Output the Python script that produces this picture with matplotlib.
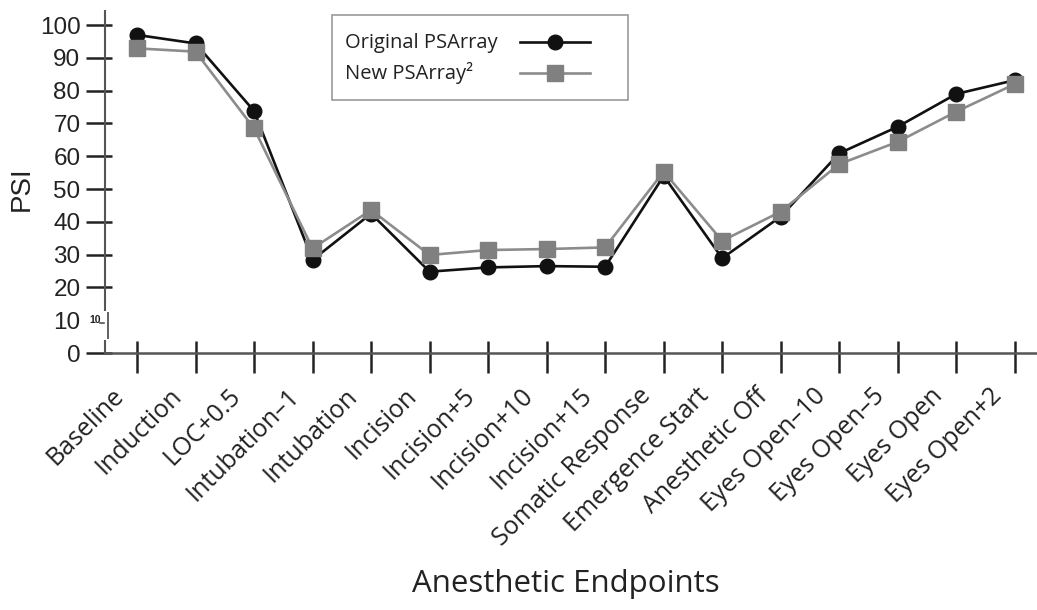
import matplotlib
matplotlib.use("Agg")
import matplotlib.pyplot as plt
import matplotlib.transforms as mtransforms
from matplotlib.lines import Line2D
from matplotlib.patches import Rectangle
import numpy as np

categories = ["Baseline", "Induction", "LOC+0.5", "Intubation\u20131", "Intubation",
              "Incision", "Incision+5", "Incision+10", "Incision+15",
              "Somatic Response", "Emergence Start", "Anesthetic Off",
              "Eyes Open\u201310", "Eyes Open\u20135", "Eyes Open", "Eyes Open+2"]
original = [97.0, 94.4, 73.8, 28.4, 42.5, 24.8, 26.1, 26.5, 26.3, 54.0, 28.9, 41.6,
            60.9, 69.0, 79.0, 83.2]
new = [92.9, 91.9, 68.5, 31.9, 43.6, 29.9, 31.4, 31.7, 32.2, 55.3, 34.2, 43.1,
       57.6, 64.4, 73.6, 82.0]
yticks = [0, 10, 20, 30, 40, 50, 60, 70, 80, 90, 100]
series_labels = ["Original PSArray", "New PSArray\u00b2"]

DPI = 100
fig = plt.figure(figsize=(10.37, 6.10), dpi=DPI)
W, H = 1037, 610
ax = fig.add_axes([105 / W, 1 - 353 / H, 1 - 105 / W, (353 - 10) / H])

black_style = dict(color="#111111", lw=1.9, marker="o", ms=10.5,
                   mfc="#111111", mec="#111111")
gray_style = dict(color="#8c8c8c", lw=1.9, marker="s", ms=12,
                  mfc="#808080", mec="#808080")

x = np.arange(len(categories))
ax.plot(x, original, zorder=3, **black_style)
ax.plot(x, new, zorder=4, **gray_style)

ax.set_xlim(-0.547, 15.38)
ax.set_ylim(0, 104.6)

px = 72.0 / DPI  # points per pixel

# x ticks: out 20px + in 12px
ax.set_xticks(x)
ax.set_xticks(x, minor=True)
ax.xaxis.remove_overlapping_locs = False
ax.set_xticklabels(categories, rotation=45, ha="right", va="center",
                   rotation_mode="anchor", fontsize=18, family="Open Sans",
                   color="#222222")
ax.tick_params(axis="x", which="major", direction="out", length=20 * px,
               width=1.8, color="#222222", pad=14)
ax.tick_params(axis="x", which="minor", direction="in", length=12 * px,
               width=1.8, color="#222222")
off = mtransforms.ScaledTranslation(-17 / DPI, 0, fig.dpi_scale_trans)
for lab in ax.get_xticklabels():
    lab.set_transform(lab.get_transform() + off)

# y ticks: out 19px + in 7px
ax.set_yticks(yticks)
ax.set_yticks([t for t in yticks if t != 10], minor=True)
ax.yaxis.remove_overlapping_locs = False
ax.set_yticklabels([str(t) for t in yticks], fontsize=17.5, family="Liberation Sans",
                   color="#222222")
ax.tick_params(axis="y", which="major", direction="out", length=19 * px,
               width=1.8, color="#222222", pad=4)
ax.tick_params(axis="y", which="minor", direction="in", length=7 * px,
               width=1.8, color="#222222")
for t, tick in zip(yticks, ax.yaxis.get_major_ticks()):
    if t == 10:
        tick.tick1line.set_visible(False)

for s in ["top", "right", "left"]:
    ax.spines[s].set_visible(False)
ax.spines["bottom"].set_color("#555555")
ax.spines["bottom"].set_linewidth(1.8)

# broken y-axis spine
ytr = ax.get_yaxis_transform()
ax.plot([0, 0], [12.9, 104.6], transform=ytr, color="#555555", lw=1.5,
        clip_on=False, solid_capstyle="butt")
ax.plot([0, 0], [0, 3.9], transform=ytr, color="#555555", lw=1.5,
        clip_on=False, solid_capstyle="butt")
brk = ytr + mtransforms.ScaledTranslation(2.5 / DPI, 0, fig.dpi_scale_trans)
ax.plot([0, 0], [12.6, 4.2], transform=brk, color="#555555", lw=1.3,
        clip_on=False, solid_capstyle="butt")
brk2 = ytr + mtransforms.ScaledTranslation(-1.5 / DPI, 0, fig.dpi_scale_trans)
ax.plot([-0.004, 0], [9.3, 9.3], transform=brk2, color="#555555", lw=1.2,
        clip_on=False)
ax.text(-9.5 / (W - 105), 10, "10", transform=ytr, fontsize=7.5,
        fontweight="bold", family="Liberation Sans", ha="center", va="center",
        color="#222222")

# legend (drawn manually so the labels are left aligned with handles on the right)
ft = fig.transFigure
fig.add_artist(Rectangle((332 / W, 1 - 100 / H), (628 - 332) / W, 85 / H,
                         transform=ft, facecolor="white", edgecolor="#999999",
                         lw=1.2, zorder=5))
for i, (lab, st) in enumerate(zip(series_labels, [black_style, gray_style])):
    yc = 1 - (41.7 + 31.5 * i) / H
    fig.text(345 / W, 1 - (48 + 31.5 * i) / H, lab, ha="left", va="baseline",
             fontsize=14.5, family="Open Sans", color="#222222", zorder=6)
    fig.add_artist(Line2D([520 / W, 555 / W, 590 / W], [yc, yc, yc], transform=ft,
                          markevery=[1], zorder=6, **st))

fig.text(22 / W, 1 - 189 / H, "PSI", rotation=90, ha="center", va="center",
         fontsize=20, family="Liberation Sans", color="#222222")
fig.text(566 / W, 1 - 584 / H, "Anesthetic Endpoints", ha="center", va="center",
         fontsize=22.5, family="Open Sans", color="#222222")

fig.savefig("out.png", dpi=DPI, facecolor="white")
